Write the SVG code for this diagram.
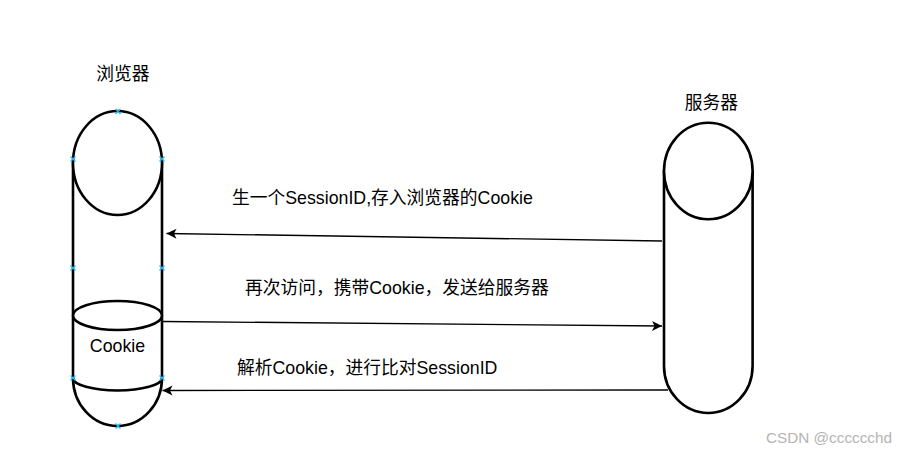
<svg xmlns="http://www.w3.org/2000/svg" width="898" height="452" viewBox="0 0 898 452">
<style>
.shape{fill:#fff;stroke:#000;stroke-width:2.6}
.lbl{font-family:"Liberation Sans","Noto Sans CJK SC",sans-serif;font-size:17.75px;fill:#000}
.conn{stroke:#000;stroke-width:1.4;fill:none;marker-end:url(#arr)}
.sel{stroke:#29b6f2;stroke-width:1.3}
.wm{font-family:"Liberation Sans","Noto Sans",sans-serif;font-size:15.3px;fill:#b4b4b4}
</style>
<defs>
<marker id="arr" markerUnits="userSpaceOnUse" markerWidth="12" markerHeight="12" viewBox="0 0 12 12" refX="11" refY="6" orient="auto">
<path d="M1,1 L11,6 L1,11 L3.5,6 Z" fill="#000"/>
</marker>
<path id="x" d="M-2.5,-2.5 L2.5,2.5 M-2.5,2.5 L2.5,-2.5" class="sel"/>
</defs>
<rect width="898" height="452" fill="#fff"/>
<g id="browser">
<path class="shape" d="M73,163 L73,378 A44.5,48 0 0 0 162,378 L162,163 Z"/>
<ellipse class="shape" cx="117.5" cy="163" rx="44.5" ry="52"/>
<ellipse class="shape" cx="117.5" cy="315.5" rx="44.5" ry="14.5"/>
<path class="shape" fill="none" d="M73,378 A44.5,12.5 0 0 0 162,378" style="fill:none"/>
<text class="lbl" x="117.5" y="352" text-anchor="middle">Cookie</text>
<text class="lbl" x="123" y="80" text-anchor="middle">浏览器</text>
<g>
<use href="#x" x="118" y="111.5"/>
<use href="#x" x="73" y="159"/>
<use href="#x" x="162" y="159"/>
<use href="#x" x="73" y="268"/>
<use href="#x" x="162" y="268"/>
<use href="#x" x="73" y="378"/>
<use href="#x" x="162" y="378"/>
<use href="#x" x="118" y="426"/>
</g>
</g>
<g id="server">
<path class="shape" d="M664,171 L664,366 A44.3,47 0 0 0 752.6,366 L752.6,171 Z"/>
<ellipse class="shape" cx="708.3" cy="171" rx="44.3" ry="48.3"/>
<text class="lbl" x="711.5" y="109" text-anchor="middle">服务器</text>
</g>
<g id="connectors">
<line class="conn" x1="662" y1="241" x2="166.5" y2="233.5"/>
<line class="conn" x1="163" y1="321.5" x2="662" y2="326"/>
<line class="conn" x1="668" y1="390" x2="162.5" y2="390.5"/>
<text class="lbl" x="232" y="204">生一个SessionID,存入浏览器的Cookie</text>
<text class="lbl" x="245" y="294">再次访问，携带Cookie，发送给服务器</text>
<text class="lbl" x="237" y="374">解析Cookie，进行比对SessionID</text>
</g>
<text class="wm" x="766" y="443">CSDN @cccccchd</text>
</svg>
